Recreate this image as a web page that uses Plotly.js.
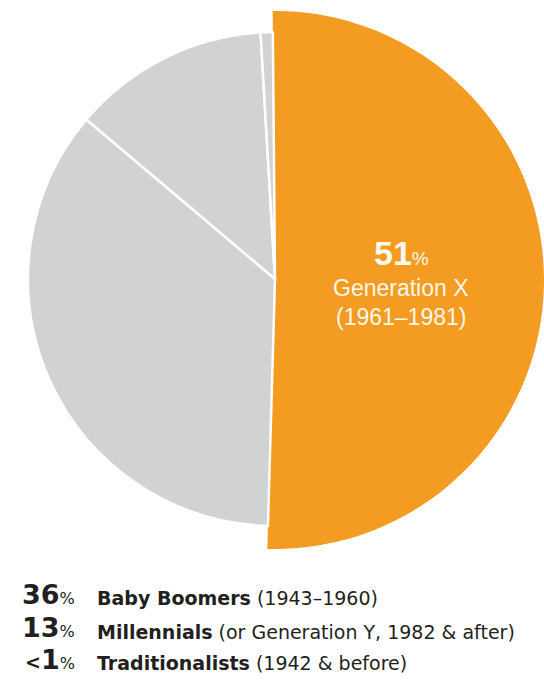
<!DOCTYPE html>
<html>
<head>
<meta charset="utf-8">
<script src="https://cdn.plot.ly/plotly-3.0.1.min.js"></script>
<style>
  html, body { margin: 0; padding: 0; background: #fff; overflow: hidden; }
  #chart { width: 544px; height: 700px; }
</style>
</head>
<body>
<div id="chart"></div>
<script>
// ---- data ----
const labels = ['Generation X', 'Baby Boomers', 'Millennials', 'Traditionalists'];
const values = [51, 36, 13, 0.8];
const percentText = ['51', '36', '13', '<1'];
const years = ['(1961–1981)', '(1943–1960)', '(or Generation Y, 1982 & after)', '(1942 & before)'];

// ---- styles ----
const ORANGE = '#F49B21';
const GREY = '#D1D2D4';
const DARK = '#231F20';
const LIGHT = '#FFF8EE';
const FONT = 'Liberation Sans, Arial, Helvetica, sans-serif';
const LFONT = 'DejaVu Sans, Verdana, sans-serif';
const W = 544, H = 700;
const px = x => x / W;
const py = y => 1 - y / H;

// big pie: only the orange slice visible
const orangeTrace = {
  type: 'pie',
  labels: labels,
  values: values,
  sort: false,
  direction: 'clockwise',
  rotation: -0.5,
  textinfo: 'none',
  hoverinfo: 'label+percent',
  domain: { x: [px(6), 1], y: [py(549), py(11)] },
  marker: {
    colors: [ORANGE, 'rgba(0,0,0,0)', 'rgba(0,0,0,0)', 'rgba(0,0,0,0)'],
    line: { color: '#ffffff', width: [0, 0, 0, 0] }
  },
  showlegend: false
};

// smaller pie: the grey slices
const greyTrace = {
  type: 'pie',
  labels: labels,
  values: values,
  sort: false,
  direction: 'clockwise',
  rotation: -0.5,
  textinfo: 'none',
  hoverinfo: 'label+percent',
  domain: { x: [px(28), px(522)], y: [py(526), py(32)] },
  marker: {
    colors: ['rgba(0,0,0,0)', GREY, GREY, GREY],
    line: { color: '#ffffff', width: [0, 2.5, 2.5, 2.5] }
  },
  showlegend: false
};

const annotations = [];
// text inside orange slice
annotations.push({
  xref: 'paper', yref: 'paper', x: px(401), y: py(253), xanchor: 'center', yanchor: 'middle',
  showarrow: false,
  text: '<b>' + percentText[0] + '</b><span style="font-size:19px">%</span>',
  font: { family: FONT, size: 34, color: LIGHT }
});
annotations.push({
  xref: 'paper', yref: 'paper', x: px(401), y: py(288), xanchor: 'center', yanchor: 'middle',
  showarrow: false, text: labels[0],
  font: { family: FONT, size: 23, color: LIGHT }
});
annotations.push({
  xref: 'paper', yref: 'paper', x: px(401), y: py(317), xanchor: 'center', yanchor: 'middle',
  showarrow: false, text: years[0],
  font: { family: FONT, size: 23, color: LIGHT }
});

// legend rows: number + label
const rowNumY = [594, 627, 659];
const rowTxtY = [598, 632, 663];
for (let i = 1; i < 4; i++) {
  const t = percentText[i];
  let s = '';
  if (t.startsWith('<')) {
    s += '<span style="font-size:19px">&lt;</span>' + t.slice(1);
  } else {
    s += t;
  }
  s += '<span style="font-size:16px;font-weight:normal">%</span>';
  annotations.push({
    xref: 'paper', yref: 'paper', x: px(77), y: py(rowNumY[i - 1]), xanchor: 'right', yanchor: 'middle',
    showarrow: false, text: '<b>' + s + '</b>',
    font: { family: LFONT, size: 27, color: DARK }
  });
  annotations.push({
    xref: 'paper', yref: 'paper', x: px(95), y: py(rowTxtY[i - 1]), xanchor: 'left', yanchor: 'middle',
    showarrow: false, text: '<b>' + labels[i] + '</b> ' + years[i],
    font: { family: LFONT, size: 19, color: DARK }
  });
}

const layout = {
  width: W, height: H,
  margin: { l: 0, r: 0, t: 0, b: 0 },
  paper_bgcolor: '#ffffff',
  plot_bgcolor: '#ffffff',
  showlegend: false,
  annotations: annotations
};

Plotly.newPlot('chart', [orangeTrace, greyTrace], layout, { displayModeBar: false, staticPlot: true });
</script>
</body>
</html>
